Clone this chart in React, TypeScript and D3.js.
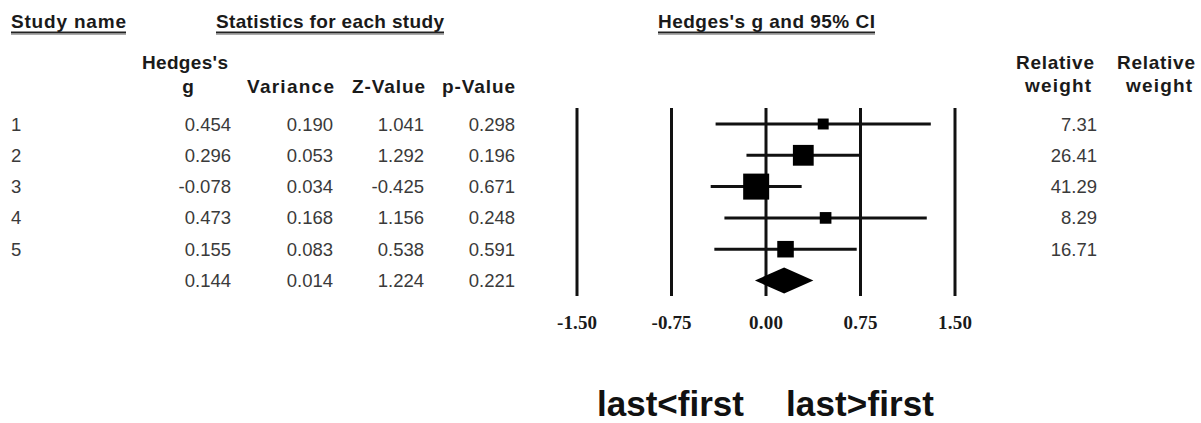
import React from 'react';
import * as d3 from 'd3';

// study rows
const studies = ['1', '2', '3', '4', '5'];
const hedgesG = [0.454, 0.296, -0.078, 0.473, 0.155];
const variance = [0.190, 0.053, 0.034, 0.168, 0.083];
const zValue = [1.041, 1.292, -0.425, 1.156, 0.538];
const pValue = [0.298, 0.196, 0.671, 0.248, 0.591];
const lowerCI = [-0.400, -0.155, -0.439, -0.330, -0.410];
const upperCI = [1.308, 0.747, 0.283, 1.276, 0.720];
const relWeight = ['7.31', '26.41', '41.29', '8.29', '16.71'];

// summary (fixed effect)
const summary = { g: 0.144, variance: 0.014, z: 1.224, p: 0.221, lower: -0.088, upper: 0.376 };

const ticks = [-1.5, -0.75, 0, 0.75, 1.5];

const W = 1201;
const H = 423;

const headFont = { fontFamily: 'Liberation Sans, Arial, sans-serif', fontWeight: 700, fontSize: 19, fill: '#1a1a1a' };
const numFont = { fontFamily: 'Liberation Sans, Arial, sans-serif', fontSize: 18.5, fill: '#3a3a3a' };

const App = () => {
  const x = d3.scaleLinear().domain([-1.5, 1.5]).range([577, 955]);
  const y = d3.scaleLinear().domain([0, 1]).range([124, 155.3]);
  const weights = relWeight.map(Number);
  const boxSize = d3.scaleSqrt().domain([0, d3.max(weights)]).range([0, 26]);

  // plain hyphen for negatives, as in the original table
  const fmt3 = (v) => v.toFixed(3);
  const fmtTick = (v) => v.toFixed(2);

  // right edges of numeric columns
  const cols = [
    { vals: hedgesG, sum: summary.g, right: 231 },
    { vals: variance, sum: summary.variance, right: 333 },
    { vals: zValue, sum: summary.z, right: 424 },
    { vals: pValue, sum: summary.p, right: 515 },
  ];

  const sumY = y(studies.length);
  const diamond = d3.line()([
    [x(summary.lower), sumY],
    [x(summary.g), sumY - 13],
    [x(summary.upper), sumY],
    [x(summary.g), sumY + 13],
  ]) + 'Z';

  const underline = (x1, x2) => (
    <g>
      <line x1={x1} x2={x2} y1={32.5} y2={32.5} stroke="#222" strokeWidth={2} />
      <line x1={x1} x2={x2} y1={34.5} y2={34.5} stroke="#aaa" strokeWidth={1.2} />
    </g>
  );

  return (
    <svg width={W} height={H} style={{ position: 'absolute', left: 0, top: 0, background: '#fff' }}>
      {/* section titles */}
      <text x={11} y={28} {...headFont} textLength={115} lengthAdjust="spacing">Study name</text>
      {underline(11, 126)}
      <text x={216} y={28} {...headFont} textLength={228} lengthAdjust="spacing">Statistics for each study</text>
      {underline(216, 444)}
      <text x={658} y={28} {...headFont} textLength={217} lengthAdjust="spacing">Hedges's g and 95% CI</text>
      {underline(658, 875)}

      {/* column headers */}
      <text x={142} y={69} {...headFont} textLength={86} lengthAdjust="spacing">Hedges's</text>
      <text x={188} y={93} {...headFont} textAnchor="middle">g</text>
      <text x={247} y={93} {...headFont} textLength={87} lengthAdjust="spacing">Variance</text>
      <text x={352} y={93} {...headFont} textLength={73} lengthAdjust="spacing">Z-Value</text>
      <text x={442} y={93} {...headFont} textLength={73} lengthAdjust="spacing">p-Value</text>
      <text x={1016} y={69} {...headFont} textLength={78} lengthAdjust="spacing">Relative</text>
      <text x={1025} y={92} {...headFont} textLength={66} lengthAdjust="spacing">weight</text>
      <text x={1117} y={69} {...headFont} textLength={78} lengthAdjust="spacing">Relative</text>
      <text x={1126} y={92} {...headFont} textLength={66} lengthAdjust="spacing">weight</text>

      {/* study names */}
      {studies.map((s, i) => (
        <text key={s} x={11} y={y(i) + 6.5} {...numFont}>{s}</text>
      ))}

      {/* numeric columns */}
      {cols.map((c, ci) => (
        <g key={ci}>
          {c.vals.map((v, i) => (
            <text key={i} x={c.right} y={y(i) + 6.5} textAnchor="end" {...numFont}>{fmt3(v)}</text>
          ))}
          <text x={c.right} y={sumY + 6.5} textAnchor="end" {...numFont}>{fmt3(c.sum)}</text>
        </g>
      ))}

      {/* relative weights */}
      {relWeight.map((w, i) => (
        <text key={i} x={1097} y={y(i) + 6.5} textAnchor="end" {...numFont}>{w}</text>
      ))}

      {/* reference lines */}
      {ticks.map(t => (
        <line key={t} x1={x(t)} x2={x(t)} y1={108} y2={296} stroke="#111" strokeWidth={3} />
      ))}

      {/* confidence intervals */}
      {hedgesG.map((g, i) => (
        <line key={i} x1={x(lowerCI[i])} x2={x(upperCI[i])} y1={y(i)} y2={y(i)} stroke="#111" strokeWidth={3} />
      ))}

      {/* weight boxes */}
      {hedgesG.map((g, i) => {
        const s = boxSize(weights[i]);
        return <rect key={i} x={x(g) - s / 2} y={y(i) - s / 2} width={s} height={s} fill="#000" />;
      })}

      {/* summary diamond */}
      <path d={diamond} fill="#000" />

      {/* tick labels */}
      {ticks.map(t => (
        <text key={t} x={x(t)} y={329} textAnchor="middle"
          fontFamily="Liberation Serif, Times New Roman, serif" fontWeight={700} fontSize={19} fill="#1a1a1a"
          textLength={t < 0 ? 40 : 34} lengthAdjust="spacing">
          {fmtTick(t)}
        </text>
      ))}

      {/* favours labels */}
      <text x={597} y={416} fontFamily="Liberation Sans, Arial, sans-serif" fontWeight={700} fontSize={35}
        fill="#111" textLength={147} lengthAdjust="spacing">last&lt;first</text>
      <text x={786} y={416} fontFamily="Liberation Sans, Arial, sans-serif" fontWeight={700} fontSize={35}
        fill="#111" textLength={148} lengthAdjust="spacing">last&gt;first</text>
    </svg>
  );
};

export default App;
